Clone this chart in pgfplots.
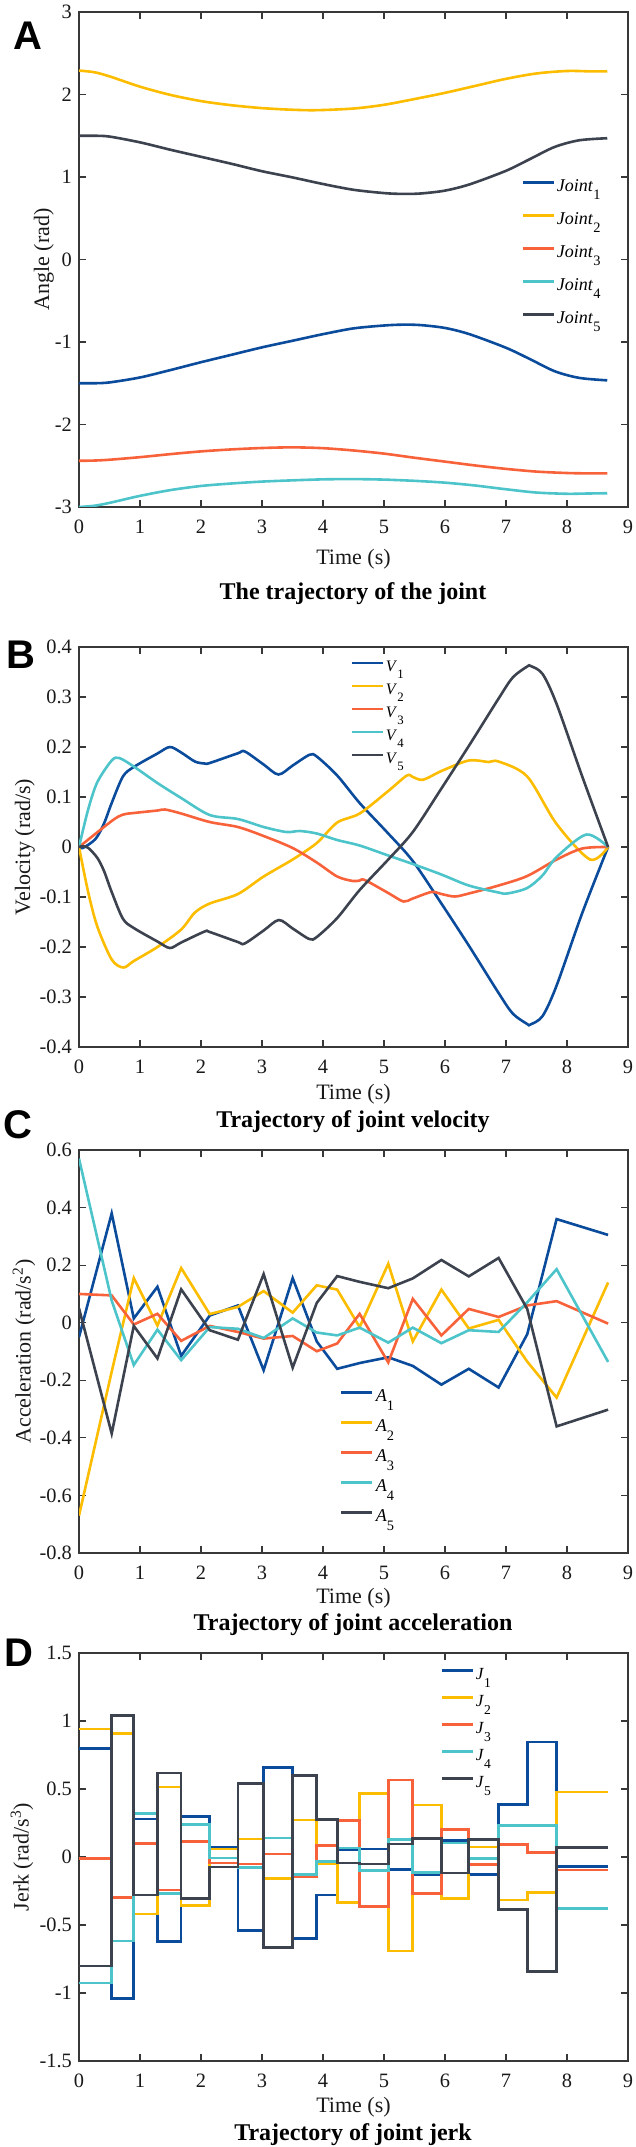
\documentclass[border=0pt]{standalone}
\usepackage{fontspec}
\setmainfont{Liberation Serif}
\newfontfamily\lettersf{Liberation Sans}
\usepackage{graphicx}
\usepackage{pgfplots}
\usepackage{pgfplotstable}
\pgfplotsset{compat=1.18}
\definecolor{c1}{RGB}{10,75,155}
\definecolor{c2}{RGB}{252,188,0}
\definecolor{c3}{RGB}{248,98,58}
\definecolor{c4}{RGB}{76,196,202}
\definecolor{c5}{RGB}{60,66,78}
\newcommand{\sub}[1]{\raisebox{-1.0ex}{\scalebox{0.8}{#1}}}

\pgfplotstableread{
t a1 a2 a3 a4 a5
0     -0.05  -0.67   0.10   0.57   0.05
0.536  0.38  -0.17   0.095  0.077 -0.385
0.898  0.015  0.155 -0.006 -0.147 -0.011
1.286  0.125 -0.01   0.031 -0.024 -0.124
1.675 -0.115  0.19  -0.063 -0.13   0.116
2.143  0.025  0.03  -0.011 -0.015 -0.026
2.605  0.06   0.055 -0.032 -0.021 -0.059
3.027 -0.165  0.11  -0.055 -0.053  0.169
3.503  0.155  0.035 -0.046  0.015 -0.156
3.898 -0.065  0.13  -0.099 -0.034  0.069
4.233 -0.16   0.115 -0.072 -0.044  0.162
4.601 -0.14  -0.015  0.031 -0.017  0.142
5.070 -0.12   0.205 -0.138 -0.069  0.12
5.472 -0.15  -0.065  0.083 -0.017  0.154
5.941 -0.215  0.115 -0.044 -0.071  0.218
6.390 -0.16  -0.02   0.048 -0.026  0.161
6.879 -0.225  0.01   0.02  -0.032  0.225
7.348 -0.04  -0.135  0.06   0.071  0.048
7.830  0.36  -0.26   0.075  0.186 -0.36
8.674  0.305  0.14  -0.003 -0.136 -0.302
}\acctable

\pgfplotstableread{
t j1 j2 j3 j4 j5
0      0.80   0.94  -0.01  -0.926 -0.80
0.536 -1.04   0.91  -0.296 -0.616  1.039
0.898  0.28  -0.42   0.101  0.32  -0.278
1.286 -0.62   0.515 -0.241 -0.266  0.618
1.675  0.30  -0.355  0.116  0.241 -0.305
2.143  0.075  0.06  -0.044 -0.007 -0.074
2.605 -0.54   0.133 -0.052 -0.076  0.539
3.027  0.66  -0.16   0.022  0.14  -0.665
3.503 -0.60   0.273 -0.143 -0.13   0.601
3.898 -0.28  -0.052  0.086 -0.032  0.276
4.233  0.055 -0.335  0.268  0.066 -0.044
4.601  0.06   0.468 -0.365 -0.101 -0.052
5.070 -0.09  -0.692  0.567  0.128  0.096
5.472 -0.13   0.382 -0.266 -0.113  0.135
5.941  0.12  -0.303  0.202  0.103 -0.118
6.390 -0.13   0.074 -0.057 -0.012  0.128
6.879  0.385 -0.315  0.091  0.232 -0.384
7.348  0.845 -0.259  0.034  0.232 -0.84
7.830 -0.07   0.478 -0.094 -0.378  0.071
8.674 -0.07   0.478 -0.094 -0.378  0.071
}\jerktable

\pgfplotsset{
  base/.style={
    scale only axis, width=274.5pt,
    xmin=0, xmax=9, xtick={0,1,...,9},
    tick align=inside, xtick pos=both, ytick pos=both,
    xticklabel pos=lower, yticklabel pos=left,
    major tick length=3.5pt,
    axis line style={draw=black!78, line width=0.6pt},
    tick style={draw=black!78, line width=0.6pt},
    tick label style={font=\fontsize{10.2}{12}\selectfont, text=black!90},
    xticklabel style={yshift=-3pt},
    /pgf/number format/assume math mode=true,
    label style={font=\fontsize{11}{13}\selectfont, text=black!90},
    xlabel={Time (s)},
    legend cell align=left,
    legend image code/.code={\draw[##1, line width=1.3pt] (0pt,0.25em) -- (15.5pt,0.25em);},
    every axis plot/.append style={line width=1.3pt},
  }
}

\begin{document}
\begin{tikzpicture}[x=1pt,y=1pt]
\path[use as bounding box] (0,0) rectangle (318,-1073.5);

% ---------------- Panel A
\begin{axis}[base, at={(39.5pt,-6pt)}, anchor=north west, height=247.5pt,
  ymin=-3, ymax=3, ytick={-3,-2,-1,0,1,2,3},
  ylabel={Angle (rad)},
  ylabel style={at={(axis description cs:-0.0638,0.5)}, anchor=center},
  xlabel style={at={(axis description cs:0.5,0)}, anchor=base, yshift=-29pt},
  legend style={draw=none, fill=none, inner sep=0pt, font=\fontsize{9}{10}\selectfont,
    at={(0.805,0.666)}, anchor=north west, row sep=7pt,
    nodes={inner ysep=0pt, inner xsep=1pt, text height=7pt, text depth=2.5pt}}]
\addplot[c1, smooth] coordinates {(0,-1.50) (0.25,-1.50) (0.5,-1.49) (1.0,-1.43) (1.5,-1.34) (2.0,-1.245) (2.5,-1.155) (3.0,-1.065) (3.5,-0.985) (4.0,-0.905) (4.5,-0.835) (5.0,-0.80) (5.3,-0.79) (5.6,-0.795) (6.0,-0.83) (6.4,-0.905) (7.0,-1.07) (7.4,-1.21) (7.8,-1.355) (8.2,-1.435) (8.66,-1.465)};
\addplot[c2, smooth] coordinates {(0,2.29) (0.25,2.27) (0.5,2.22) (1.0,2.095) (1.5,1.995) (2.0,1.92) (2.5,1.87) (3.0,1.835) (3.5,1.815) (3.9,1.81) (4.5,1.83) (5.0,1.875) (5.5,1.945) (6.0,2.02) (6.5,2.105) (7.0,2.19) (7.5,2.255) (8.0,2.285) (8.4,2.28) (8.66,2.28)};
\addplot[c3, smooth] coordinates {(0,-2.44) (0.25,-2.437) (0.5,-2.427) (1.0,-2.396) (1.5,-2.359) (2.0,-2.326) (2.5,-2.302) (3.0,-2.285) (3.5,-2.277) (4.0,-2.287) (4.5,-2.315) (5.0,-2.353) (5.5,-2.403) (6.0,-2.45) (6.5,-2.497) (7.0,-2.538) (7.5,-2.571) (8.0,-2.588) (8.3,-2.592) (8.66,-2.592)};
\addplot[c4, smooth] coordinates {(0,-3.00) (0.25,-2.985) (0.5,-2.95) (1.0,-2.865) (1.5,-2.795) (2.0,-2.745) (2.5,-2.715) (3.0,-2.692) (3.5,-2.677) (4.0,-2.665) (4.5,-2.662) (5.0,-2.668) (5.5,-2.683) (6.0,-2.705) (6.5,-2.74) (7.0,-2.785) (7.5,-2.825) (8.0,-2.84) (8.3,-2.837) (8.66,-2.833)};
\addplot[c5, smooth] coordinates {(0,1.50) (0.25,1.50) (0.5,1.49) (1.0,1.42) (1.5,1.33) (2.0,1.245) (2.5,1.16) (3.0,1.07) (3.5,0.995) (4.0,0.915) (4.5,0.845) (5.0,0.805) (5.3,0.795) (5.6,0.80) (6.0,0.835) (6.4,0.91) (7.0,1.075) (7.4,1.22) (7.8,1.365) (8.2,1.445) (8.66,1.47)};
\legend{\textit{Joint}\sub{1},\textit{Joint}\sub{2},\textit{Joint}\sub{3},\textit{Joint}\sub{4},\textit{Joint}\sub{5}}
\end{axis}

% ---------------- Panel B
\begin{axis}[base, at={(39.5pt,-323.5pt)}, anchor=north west, height=200pt,
  ymin=-0.4, ymax=0.4, ytick={-0.4,-0.3,-0.2,-0.1,0,0.1,0.2,0.3,0.4},
  ylabel={Velocity (rad/s)},
  ylabel style={at={(axis description cs:-0.0984,0.5)}, anchor=center},
  xlabel style={at={(axis description cs:0.5,0)}, anchor=base, yshift=-26pt},
  legend style={draw=none, fill=none, inner sep=0pt, font=\fontsize{8}{9}\selectfont,
    at={(0.4936,0.97)}, anchor=north west, row sep=3pt,
    nodes={inner ysep=0pt, inner xsep=1pt, text height=6pt, text depth=2.5pt}}]
\addplot[c1, smooth] coordinates {(0,0) (0.062,-0.002) (0.27,0.016) (0.41,0.047) (0.536,0.088) (0.72,0.141) (0.898,0.160) (1.286,0.187) (1.49,0.200) (1.675,0.189) (1.9,0.171) (2.06,0.167) (2.143,0.168) (2.605,0.1875) (2.72,0.191) (3.027,0.165) (3.27,0.145) (3.503,0.163) (3.78,0.1845) (3.898,0.181) (4.233,0.143) (4.601,0.088) (5.070,0.027) (5.472,-0.028) (5.941,-0.113) (6.390,-0.197) (6.879,-0.292) (7.11,-0.333) (7.348,-0.354) (7.40,-0.355) (7.6,-0.338) (7.830,-0.277) (8.25,-0.132) (8.674,0)};
\addplot[c2, smooth] coordinates {(0,0) (0.15,-0.09) (0.3,-0.159) (0.536,-0.225) (0.727,-0.241) (0.898,-0.228) (1.286,-0.200) (1.675,-0.165) (1.9,-0.131) (2.143,-0.113) (2.605,-0.094) (3.027,-0.059) (3.503,-0.025) (3.898,0.008) (4.233,0.049) (4.601,0.067) (5.070,0.112) (5.375,0.143) (5.472,0.140) (5.641,0.1345) (5.941,0.152) (6.390,0.173) (6.716,0.170) (6.879,0.171) (7.348,0.141) (7.830,0.046) (8.379,-0.025) (8.674,0)};
\addplot[c3, smooth] coordinates {(0,0) (0.536,0.052) (0.72,0.0648) (0.898,0.068) (1.286,0.073) (1.41,0.075) (1.675,0.067) (2.143,0.050) (2.605,0.040) (3.027,0.022) (3.503,-0.002) (3.898,-0.031) (4.233,-0.059) (4.49,-0.068) (4.601,-0.067) (4.685,-0.066) (5.070,-0.092) (5.32,-0.109) (5.472,-0.103) (5.777,-0.090) (5.941,-0.094) (6.16,-0.099) (6.390,-0.093) (6.879,-0.077) (7.348,-0.058) (7.830,-0.025) (8.25,-0.003) (8.674,0)};
\addplot[c4, smooth] coordinates {(0,0) (0.15,0.075) (0.3,0.1296) (0.536,0.173) (0.66,0.178) (0.898,0.161) (1.286,0.128) (1.675,0.098) (2.143,0.064) (2.605,0.056) (3.027,0.040) (3.40,0.030) (3.62,0.032) (3.898,0.027) (4.233,0.014) (4.601,0.003) (5.070,-0.017) (5.472,-0.034) (5.941,-0.055) (6.390,-0.077) (6.879,-0.091) (7.02,-0.093) (7.348,-0.082) (7.6,-0.0566) (7.830,-0.020) (8.318,0.025) (8.674,0)};
\addplot[c5, smooth] coordinates {(0,0) (0.062,0.0016) (0.15,-0.0016) (0.3,-0.0216) (0.41,-0.048) (0.536,-0.090) (0.72,-0.1435) (0.898,-0.162) (1.286,-0.189) (1.49,-0.202) (1.675,-0.191) (2.06,-0.169) (2.143,-0.170) (2.605,-0.190) (2.715,-0.193) (3.027,-0.167) (3.276,-0.146) (3.503,-0.163) (3.775,-0.184) (3.898,-0.180) (4.233,-0.142) (4.601,-0.086) (5.070,-0.025) (5.472,0.030) (5.941,0.117) (6.390,0.202) (6.879,0.297) (7.11,0.339) (7.348,0.361) (7.405,0.362) (7.6,0.346) (7.830,0.286) (8.25,0.141) (8.674,0)};
\legend{\textit{V}\sub{1},\textit{V}\sub{2},\textit{V}\sub{3},\textit{V}\sub{4},\textit{V}\sub{5}}
\end{axis}

% ---------------- Panel C
\begin{axis}[base, at={(39.5pt,-575pt)}, anchor=north west, height=201.5pt,
  ymin=-0.8, ymax=0.6, ytick={-0.8,-0.6,-0.4,-0.2,0,0.2,0.4,0.6},
  ylabel={Acceleration (rad/s\textsuperscript{2})},
  ylabel style={at={(axis description cs:-0.1002,0.5)}, anchor=center},
  xlabel style={at={(axis description cs:0.5,0)}, anchor=base, yshift=-25pt},
  legend style={draw=none, fill=none, inner sep=0pt, font=\fontsize{9}{10}\selectfont,
    at={(0.475,0.411)}, anchor=north west, row sep=5.5pt,
    nodes={inner ysep=0pt, inner xsep=1pt, text height=7pt, text depth=2.5pt}}]
\addplot[c1] table[x=t, y=a1] {\acctable};
\addplot[c2] table[x=t, y=a2] {\acctable};
\addplot[c3] table[x=t, y=a3] {\acctable};
\addplot[c4] table[x=t, y=a4] {\acctable};
\addplot[c5] table[x=t, y=a5] {\acctable};
\legend{\textit{A}\sub{1},\textit{A}\sub{2},\textit{A}\sub{3},\textit{A}\sub{4},\textit{A}\sub{5}}
\end{axis}

% ---------------- Panel D
\begin{axis}[base, at={(39.5pt,-826.5pt)}, anchor=north west, height=204pt,
  ymin=-1.5, ymax=1.5, ytick={-1.5,-1,-0.5,0,0.5,1,1.5},
  ylabel={Jerk (rad/s\textsuperscript{3})},
  ylabel style={at={(axis description cs:-0.1038,0.5)}, anchor=center},
  xlabel style={at={(axis description cs:0.5,0)}, anchor=base, yshift=-25.5pt},
  legend style={draw=none, fill=none, inner sep=0pt, font=\fontsize{8.5}{9.5}\selectfont,
    at={(0.6575,0.968)}, anchor=north west, row sep=4.5pt,
    nodes={inner ysep=0pt, inner xsep=1pt, text height=6.5pt, text depth=2.5pt}}]
\addplot[c1, const plot] table[x=t, y=j1] {\jerktable};
\addplot[c2, const plot] table[x=t, y=j2] {\jerktable};
\addplot[c3, const plot] table[x=t, y=j3] {\jerktable};
\addplot[c4, const plot] table[x=t, y=j4] {\jerktable};
\addplot[c5, const plot] table[x=t, y=j5] {\jerktable};
\legend{\textit{J}\sub{1},\textit{J}\sub{2},\textit{J}\sub{3},\textit{J}\sub{4},\textit{J}\sub{5}}
\end{axis}

% ---------------- titles and panel letters
\node[font=\fontsize{12}{14}\selectfont\bfseries, anchor=base] at (176.5,-299.5) {The trajectory of the joint};
\node[font=\fontsize{12}{14}\selectfont\bfseries, anchor=base] at (176.5,-563.5) {Trajectory of joint velocity};
\node[font=\fontsize{12}{14}\selectfont\bfseries, anchor=base] at (176.5,-815) {Trajectory of joint acceleration};
\node[font=\fontsize{12}{14}\selectfont\bfseries, anchor=base] at (176.5,-1070) {Trajectory of joint jerk};
\node[font=\fontsize{20}{20}\lettersf\bfseries] at (14,-18) {A};
\node[font=\fontsize{20}{20}\lettersf\bfseries] at (10.5,-327.5) {B};
\node[font=\fontsize{20}{20}\lettersf\bfseries] at (9,-562.5) {C};
\node[font=\fontsize{20}{20}\lettersf\bfseries] at (9.25,-826.5) {D};
\end{tikzpicture}
\end{document}
